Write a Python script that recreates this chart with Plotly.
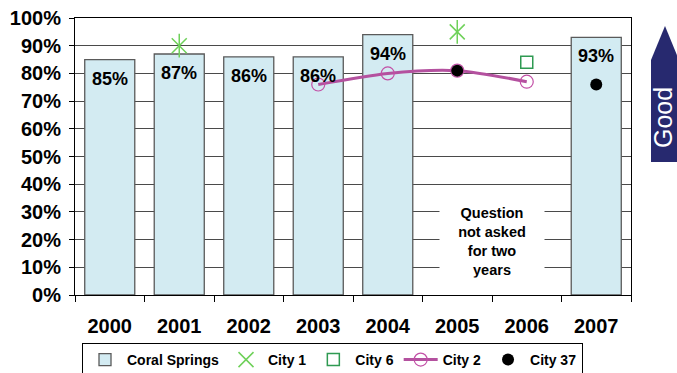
import plotly.graph_objects as go

years = ["2000", "2001", "2002", "2003", "2004", "2005", "2006", "2007"]
coral_springs = [0.85, 0.87, 0.86, 0.86, 0.94, None, None, 0.93]
city1_years = ["2001", "2005"]
city1 = [0.90, 0.95]
city6_years = ["2006"]
city6 = [0.84]
city2_years = ["2003", "2004", "2005", "2006"]
city2 = [0.76, 0.80, 0.81, 0.77]
city37_years = ["2005", "2007"]
city37 = [0.81, 0.76]
y_ticks = [i / 10 for i in range(11)]
y_tick_labels = [f"{i * 10}%" for i in range(11)]

W, H = 677, 373
ML, MR, MT, MB = 75, 46, 18, 78
PW, PH = W - ML - MR, H - MT - MB


def px_x(x):
    return (x - ML) / PW


def px_y(y):
    return (H - MB - y) / PH


FONT = "Liberation Sans, Arial, sans-serif"
GREEN1 = "#6fd15a"
GREEN6 = "#2f9a52"
MAGENTA = "#b4519f"

fig = go.Figure()

fig.add_trace(go.Bar(
    x=years, y=coral_springs, name="Coral Springs",
    marker=dict(color="#d3ebf2", line=dict(color="#5a5a5a", width=1.3)),
    width=0.72,
))

fig.add_trace(go.Scatter(
    x=city1_years, y=city1, mode="markers", name="City 1",
    marker=dict(symbol="x-thin-open", size=15, color=GREEN1,
                line=dict(color=GREEN1, width=1.5)),
))
fig.add_trace(go.Scatter(
    x=city1_years, y=city1, mode="markers", showlegend=False, hoverinfo="skip",
    marker=dict(symbol="line-ns-open", size=17, color=GREEN1,
                line=dict(color=GREEN1, width=1.5)),
))

fig.add_trace(go.Scatter(
    x=city6_years, y=city6, mode="markers", name="City 6",
    marker=dict(symbol="square-open", size=12, color=GREEN6,
                line=dict(color=GREEN6, width=1.5)),
))

fig.add_trace(go.Scatter(
    x=city2_years, y=city2, mode="lines+markers", name="City 2",
    line=dict(color=MAGENTA, width=3, shape="spline", smoothing=0.8),
    marker=dict(symbol="circle-open", size=13, color="#c24fa6",
                line=dict(color="#c24fa6", width=1.2)),
))

fig.add_trace(go.Scatter(
    x=city37_years, y=city37, mode="markers", name="City 37",
    marker=dict(symbol="circle", size=12, color="#000000"),
))

annotations = []
for i, v in enumerate(coral_springs):
    if v is None:
        continue
    annotations.append(dict(
        x=i, y=v, xref="x", yref="y", text=f"{round(v * 100)}%",
        showarrow=False, yshift=-19, xanchor="center", yanchor="middle",
        font=dict(family=FONT, size=18, color="#000000", weight="bold"),
    ))

annotations.append(dict(
    x=5.5, y=px_y(242), xref="x", yref="paper",
    text="Question<br>not asked<br>for two<br>years",
    showarrow=False, bgcolor="#ffffff", borderpad=8, width=88,
    xanchor="center", yanchor="middle",
    font=dict(family=FONT, size=14.5, color="#000000", weight="bold"),
))

annotations.append(dict(
    x=px_x(663), y=px_y(118), xref="paper", yref="paper",
    text="Good", textangle=-90, showarrow=False,
    xanchor="center", yanchor="middle",
    font=dict(family=FONT, size=25, color="#ffffff"),
))

x0, x1, xm = px_x(651), px_x(679), px_x(665)
arrow_path = (f"M {x0} {px_y(162)} L {x0} {px_y(60)} L {xm} {px_y(26)} "
              f"L {x1} {px_y(60)} L {x1} {px_y(162)} Z")

fig.update_layout(
    width=W, height=H,
    margin=dict(l=ML, r=MR, t=MT, b=MB, autoexpand=False),
    paper_bgcolor="#ffffff", plot_bgcolor="#ffffff",
    font=dict(family=FONT, color="#000000"),
    bargap=0.28,
    showlegend=True,
    legend=dict(
        orientation="h", x=px_x(82), y=px_y(343), xanchor="left", yanchor="top",
        bordercolor="#000000", borderwidth=1, bgcolor="#ffffff",
        font=dict(family=FONT, size=14, color="#000000", weight="bold"),
        itemwidth=34, tracegroupgap=0,
    ),
    xaxis=dict(
        type="category", categoryorder="array", categoryarray=years,
        range=[-0.5, 7.5],
        tickson="boundaries", ticks="outside", ticklen=6, tickcolor="#000000",
        showline=True, linecolor="#000000", mirror=True, linewidth=1,
        showgrid=False, ticklabelstandoff=13,
        tickfont=dict(family=FONT, size=20, color="#000000", weight="bold"),
    ),
    yaxis=dict(
        range=[0, 1], tickvals=y_ticks, ticktext=y_tick_labels,
        ticks="outside", ticklen=5, tickcolor="#000000",
        showline=True, linecolor="#000000", mirror=True, linewidth=1,
        showgrid=True, gridcolor="#4a4a4a", gridwidth=1,
        zeroline=False, ticklabelstandoff=4,
        tickfont=dict(family=FONT, size=20, color="#000000", weight="bold"),
    ),
    annotations=annotations,
    shapes=[dict(type="path", xref="paper", yref="paper", path=arrow_path,
                 fillcolor="#27296f", line=dict(width=0), layer="above")],
)

fig.write_html("out.html")
